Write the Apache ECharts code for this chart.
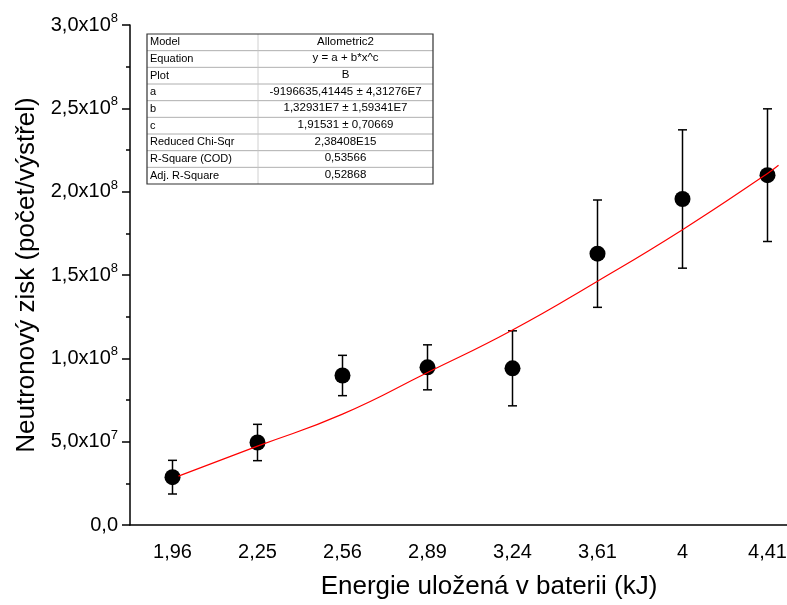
<!DOCTYPE html>
<html>
<head>
<meta charset="utf-8">
<script src="https://cdn.jsdelivr.net/npm/echarts@6/dist/echarts.min.js"></script>
<style>html,body{margin:0;padding:0;background:#fff;overflow:hidden}#c{width:830px;height:605px}</style>
</head>
<body>
<div id="c"></div>
<script>
// ---- data ----
const categories = ['1,96', '2,25', '2,56', '2,89', '3,24', '3,61', '4', '4,41'];
const yieldVals = [2.87e7, 4.95e7, 8.97e7, 9.46e7, 9.40e7, 1.628e8, 1.956e8, 2.099e8];
const yieldErr  = [1.01e7, 1.09e7, 1.21e7, 1.35e7, 2.25e7, 3.22e7, 4.15e7, 3.98e7];
// fitted curve (Allometric2), position in category index units
const fitPos  = [0.07, 1, 2, 3, 4, 5, 6, 7, 7.13];
const fitVals = [2.93e7, 4.73e7, 6.65e7, 9.15e7, 1.17e8, 1.463e8, 1.772e8, 2.109e8, 2.158e8];
const yTicks = [0, 3e8, 5e7]; // min, max, interval
const tableLabels = ['Model', 'Equation', 'Plot', 'a', 'b', 'c', 'Reduced Chi-Sqr', 'R-Square (COD)', 'Adj. R-Square'];
const tableValues = ['Allometric2', 'y = a + b*x^c', 'B', '-9196635,41445 \u00b1 4,31276E7', '1,32931E7 \u00b1 1,59341E7', '1,91531 \u00b1 0,70669', '2,38408E15', '0,53566', '0,52868'];

const FONT = '"Liberation Sans", Arial, Helvetica, sans-serif';

const chart = echarts.init(document.getElementById('c'), null, {renderer: 'canvas'});

// table graphic
const tL = 147, tT = 34, tR = 433, tSplit = 258, rowH = 150 / 9;
const tableEls = [];
tableEls.push({type: 'rect', shape: {x: tL, y: tT, width: tR - tL, height: rowH * 9}, style: {fill: '#fff', stroke: null}, z: 10});
for (let i = 1; i < 9; i++) {
  tableEls.push({type: 'line', shape: {x1: tL, y1: tT + i * rowH, x2: tR, y2: tT + i * rowH}, style: {stroke: '#9a9a9a', lineWidth: 0.8}, z: 11});
}
tableEls.push({type: 'line', shape: {x1: tSplit, y1: tT, x2: tSplit, y2: tT + 9 * rowH}, style: {stroke: '#c4c4c4', lineWidth: 0.8}, z: 11});
tableEls.push({type: 'rect', shape: {x: tL, y: tT, width: tR - tL, height: rowH * 9}, style: {fill: null, stroke: '#333', lineWidth: 1.2}, z: 12});
tableLabels.forEach((lab, i) => {
  tableEls.push({type: 'text', x: tL + 3, y: tT + (i + 0.5) * rowH, style: {text: lab, font: '11px ' + FONT, fill: '#000', verticalAlign: 'middle', align: 'left'}, z: 13});
});
tableValues.forEach((val, i) => {
  tableEls.push({type: 'text', x: (tSplit + tR) / 2, y: tT + (i + 0.5) * rowH - 1, style: {text: val, font: '11.5px ' + FONT, fill: '#000', verticalAlign: 'middle', align: 'center'}, z: 13});
});

function yLabel(v) {
  if (v === 0) return '{m|0,0}';
  const e = Math.floor(Math.log10(v) + 1e-9);
  const m = (v / Math.pow(10, e)).toFixed(1).replace('.', ',');
  return '{m|' + m + 'x10}{s|' + e + '}';
}

const option = {
  backgroundColor: '#fff',
  animation: false,
  grid: {left: 130, top: 25, width: 680, height: 505},
  xAxis: [{
    type: 'category',
    data: categories,
    boundaryGap: true,
    name: 'Energie uložená v baterii (kJ)',
    nameLocation: 'middle',
    nameGap: 49,
    nameTextStyle: {fontSize: 26, fontFamily: FONT, color: '#000', padding: [0, 0, 0, 38]},
    axisLine: {lineStyle: {color: '#000', width: 1.5}},
    axisTick: {alignWithLabel: true, length: 7, lineStyle: {color: '#000', width: 1.5}},
    axisLabel: {fontSize: 20, fontFamily: FONT, color: '#000', margin: 17},
    splitLine: {show: false}
  }, {
    type: 'value',
    min: -0.5,
    max: 7.5,
    show: false,
    gridIndex: 0
  }],
  yAxis: {
    type: 'value',
    min: yTicks[0],
    max: yTicks[1],
    interval: yTicks[2],
    name: 'Neutronový zisk (počet/výstřel)',
    nameLocation: 'middle',
    nameGap: 90,
    nameTextStyle: {fontSize: 26, fontFamily: FONT, color: '#000'},
    axisLine: {show: true, onZero: false, lineStyle: {color: '#000', width: 1.5}},
    axisTick: {show: true, length: 8, lineStyle: {color: '#000', width: 1.5}},
    minorTick: {show: true, splitNumber: 2, length: 4, lineStyle: {color: '#000', width: 1.5}},
    splitLine: {show: false},
    axisLabel: {
      margin: 12,
      formatter: yLabel,
      rich: {
        m: {fontSize: 20, fontFamily: FONT, color: '#000', lineHeight: 26},
        s: {fontSize: 13, fontFamily: FONT, color: '#000', lineHeight: 13, verticalAlign: 'top'}
      }
    }
  },
  series: [{
    type: 'custom',
    xAxisIndex: 0,
    data: yieldVals.map((v, i) => [i, v - yieldErr[i], v + yieldErr[i]]),
    renderItem: function (params, api) {
      const lo = api.coord([api.value(0), api.value(1)]);
      const hi = api.coord([api.value(0), api.value(2)]);
      const w = 4.5;
      const st = {stroke: '#000', lineWidth: 1.5};
      return {type: 'group', children: [
        {type: 'line', shape: {x1: lo[0], y1: lo[1], x2: hi[0], y2: hi[1]}, style: st},
        {type: 'line', shape: {x1: lo[0] - w, y1: lo[1], x2: lo[0] + w, y2: lo[1]}, style: st},
        {type: 'line', shape: {x1: hi[0] - w, y1: hi[1], x2: hi[0] + w, y2: hi[1]}, style: st}
      ]};
    },
    z: 2
  }, {
    type: 'scatter',
    xAxisIndex: 0,
    data: yieldVals.map((v, i) => [i, v]),
    symbol: 'circle',
    symbolSize: 16,
    itemStyle: {color: '#000', opacity: 1},
    z: 3
  }, {
    type: 'line',
    xAxisIndex: 1,
    data: fitPos.map((p, i) => [p, fitVals[i]]),
    smooth: true,
    showSymbol: false,
    lineStyle: {color: '#ff0000', width: 1.2},
    z: 4
  }],
  graphic: tableEls
};
chart.setOption(option);
</script>
</body>
</html>
